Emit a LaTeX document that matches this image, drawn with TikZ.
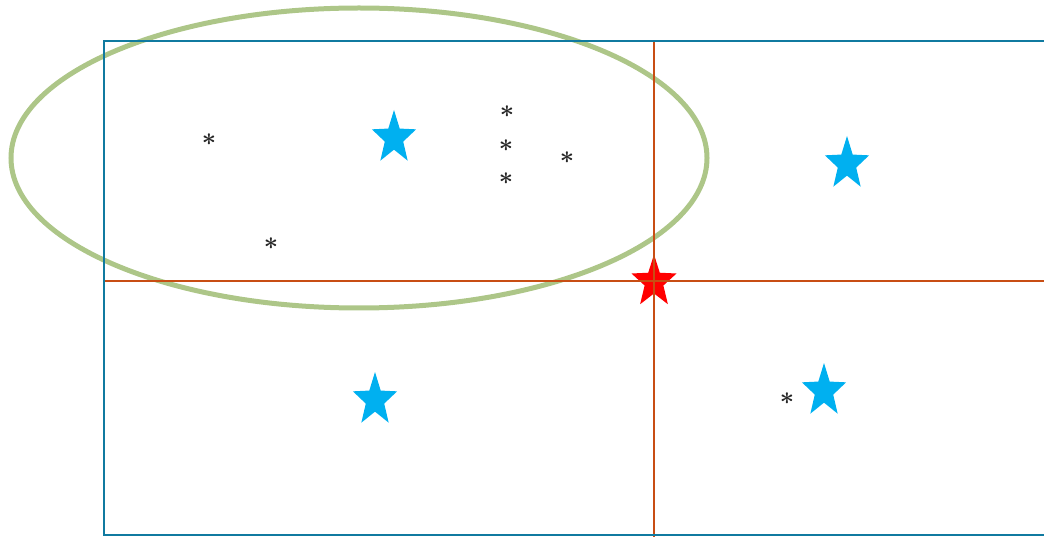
\documentclass[tikz,border=0pt]{standalone}
\usepackage{amsmath,amssymb}
\usepackage{xcolor}
\usepackage{tikz}
\usetikzlibrary{shapes.geometric}
\definecolor{starblue}{RGB}{0,176,240}
\definecolor{boxblue}{RGB}{16,122,160}
\definecolor{cutorange}{RGB}{200,78,20}
\definecolor{ellgreen}{RGB}{173,198,136}

\begin{document}
\begin{tikzpicture}[x=1pt,y=-1pt,
  bluestar/.style={star,star points=5,star point ratio=2.4,fill=starblue,minimum size=56pt,inner sep=0pt,xscale=0.83},
  redstar/.style={star,star points=5,star point ratio=2.4,fill=red,minimum size=55pt,inner sep=0pt,xscale=0.86},
  datapt/.style={inner sep=0pt,text=black!85,font=\fontsize{25}{25}\selectfont\boldmath}]
\useasboundingbox (0,0) rectangle (1044,537);
\draw [ellgreen, line width=5pt] (359,158) ellipse (348 and 150);

\foreach \name/\x/\y in {b1/394/138, b2/847/164, b3/375/400, b4/824/391}
  \node [bluestar] (\name) at (\x,\y) {};
\node [redstar] (cen) at (654,282) {};

\foreach \name/\x/\y in {p1/209/140, p2/507/112, p3/506/146, p4/506/179, p5/567/158, p6/271/244, p7/787/399}
  \node [datapt] (\name) at (\x,\y) {$\ast$};

\draw [cutorange, line width=2.4pt] (654,41) -- (654,537);
\draw [cutorange, line width=2.4pt] (105,281) -- (1044,281);
\draw [boxblue, line width=2.6pt] (1050,41) -- (104,41) -- (104,535) -- (1050,535);
\end{tikzpicture}
\end{document}
